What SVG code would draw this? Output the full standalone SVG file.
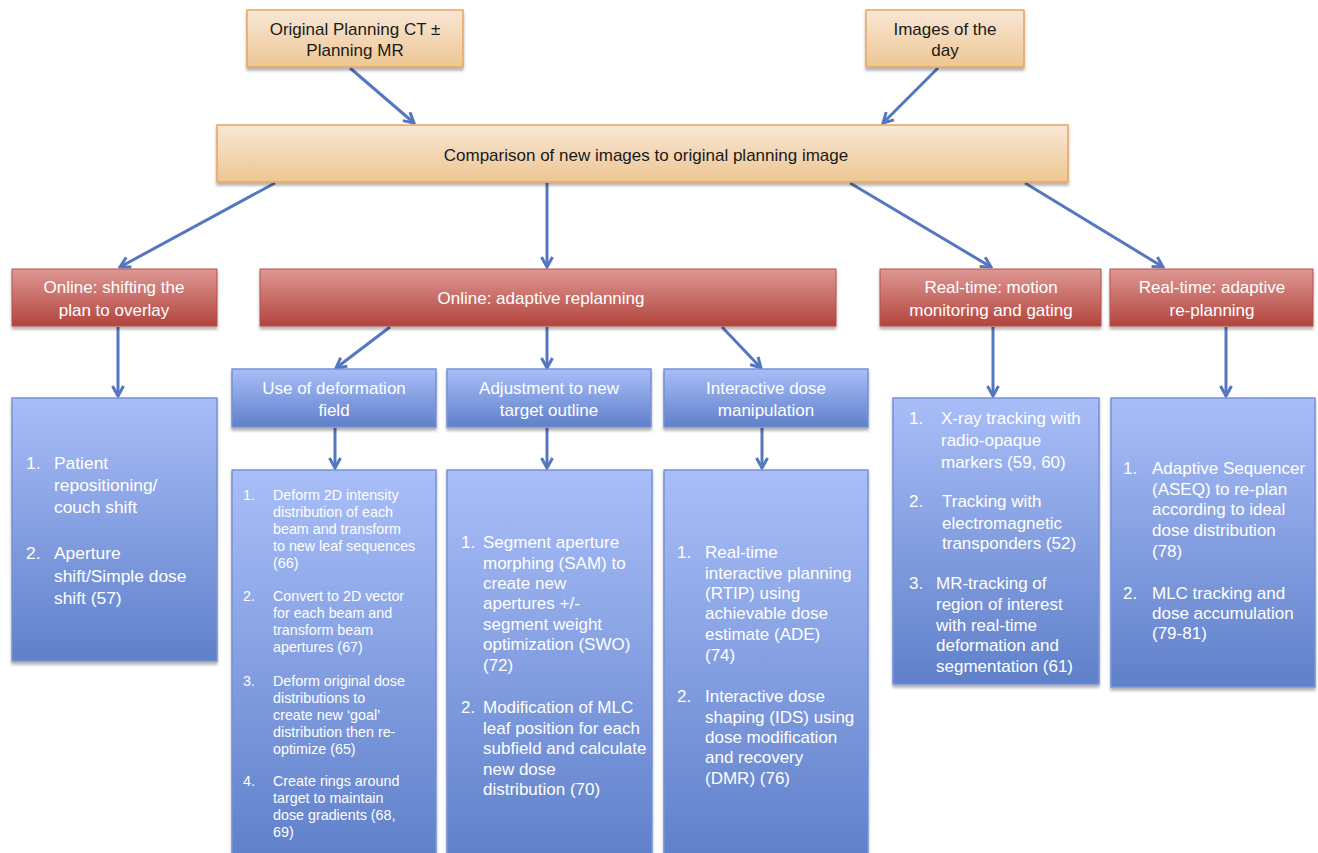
<svg xmlns="http://www.w3.org/2000/svg" width="1318" height="853" viewBox="0 0 1318 853">
<style>
  text { font-family: "Liberation Sans", Arial, sans-serif; }
  .or { fill: url(#gOr); stroke: #e6a55e; stroke-width: 1.5; filter: url(#sh); }
  .rd { fill: url(#gRd); stroke: #b5514c; stroke-width: 1; filter: url(#sh); }
  .bl { fill: url(#gBl); stroke: #7591d8; stroke-width: 1.5; filter: url(#sh); }
  .tdark { fill: #1a1a1a; font-size: 17px; text-anchor: middle; }
  .tw { fill: #ffffff; font-size: 17px; text-anchor: middle; }
  .lw { fill: #ffffff; }
  .c0 { font-size: 17.4px; }
  .c1 { font-size: 14.3px; }
  .c2 { font-size: 17px; }
  .cn { stroke: #5577c0; stroke-width: 3; fill: none; marker-end: url(#ah); }
</style>
<defs>
  <linearGradient id="gOr" x1="0" y1="0" x2="0" y2="1">
    <stop offset="0" stop-color="#f8e7d6"/>
    <stop offset="1" stop-color="#edc692"/>
  </linearGradient>
  <linearGradient id="gRd" x1="0" y1="0" x2="0" y2="1">
    <stop offset="0" stop-color="#de9893"/>
    <stop offset="1" stop-color="#b3443e"/>
  </linearGradient>
  <linearGradient id="gBl" x1="0" y1="0" x2="0" y2="1">
    <stop offset="0" stop-color="#a9bef8"/>
    <stop offset="1" stop-color="#5f80ca"/>
  </linearGradient>
  <filter id="sh" x="-5%" y="-5%" width="110%" height="115%">
    <feDropShadow dx="0" dy="3" stdDeviation="1.5" flood-color="#000" flood-opacity="0.3"/>
  </filter>
  <marker id="ah" viewBox="0 0 14 14" refX="12" refY="7" markerWidth="14" markerHeight="14" markerUnits="userSpaceOnUse" orient="auto">
    <path d="M2,1.5 L12,7 L2,12.5" fill="none" stroke="#5577c0" stroke-width="3" stroke-linejoin="miter"/>
  </marker>
</defs>

<g id="connectors">
  <line class="cn" x1="350" y1="68" x2="414" y2="123"/>
  <line class="cn" x1="938" y1="68" x2="883" y2="123"/>
  <line class="cn" x1="275" y1="183" x2="120" y2="267"/>
  <line class="cn" x1="547" y1="183" x2="547" y2="267"/>
  <line class="cn" x1="850" y1="183" x2="991" y2="267"/>
  <line class="cn" x1="1025" y1="183" x2="1163" y2="267"/>
  <line class="cn" x1="118" y1="327" x2="118" y2="396"/>
  <line class="cn" x1="390" y1="327" x2="336" y2="368"/>
  <line class="cn" x1="547" y1="327" x2="547" y2="368"/>
  <line class="cn" x1="722" y1="327" x2="761" y2="368"/>
  <line class="cn" x1="993" y1="327" x2="993" y2="396"/>
  <line class="cn" x1="1226" y1="327" x2="1226" y2="396"/>
  <line class="cn" x1="335" y1="428" x2="335" y2="468"/>
  <line class="cn" x1="547" y1="428" x2="547" y2="468"/>
  <line class="cn" x1="762" y1="428" x2="762" y2="468"/>
</g>

<g id="n-original">
  <rect class="or" x="247" y="10" width="216" height="57"/>
  <text class="tdark" x="355" y="35">Original Planning CT ±</text>
  <text class="tdark" x="355" y="56">Planning MR</text>
</g>
<g id="n-images">
  <rect class="or" x="866" y="10" width="158" height="57"/>
  <text class="tdark" x="945" y="35">Images of the</text>
  <text class="tdark" x="945" y="56">day</text>
</g>
<g id="n-compare">
  <rect class="or" x="217" y="125" width="851" height="57"/>
  <text class="tdark" x="646" y="161">Comparison of new images to original planning image</text>
</g>

<g id="n-shift">
  <rect class="rd" x="12" y="269" width="205" height="57"/>
  <text class="tw" x="114" y="293">Online: shifting the</text>
  <text class="tw" x="114" y="316">plan to overlay</text>
</g>
<g id="n-adaptive">
  <rect class="rd" x="260" y="269" width="576" height="57"/>
  <text class="tw" x="541" y="304">Online: adaptive replanning</text>
</g>
<g id="n-motion">
  <rect class="rd" x="880" y="269" width="221" height="57"/>
  <text class="tw" x="991" y="293">Real-time: motion</text>
  <text class="tw" x="991" y="316">monitoring and gating</text>
</g>
<g id="n-rtreplan">
  <rect class="rd" x="1110" y="269" width="203" height="57"/>
  <text class="tw" x="1212" y="293">Real-time: adaptive</text>
  <text class="tw" x="1212" y="316">re-planning</text>
</g>

<g id="n-deform">
  <rect class="bl" x="232" y="369" width="204" height="58"/>
  <text class="tw" x="334" y="394">Use of deformation</text>
  <text class="tw" x="334" y="416">field</text>
</g>
<g id="n-adjust">
  <rect class="bl" x="447" y="369" width="204" height="58"/>
  <text class="tw" x="549" y="394">Adjustment to new</text>
  <text class="tw" x="549" y="416">target outline</text>
</g>
<g id="n-interactive">
  <rect class="bl" x="664" y="369" width="204" height="58"/>
  <text class="tw" x="766" y="394">Interactive dose</text>
  <text class="tw" x="766" y="416">manipulation</text>
</g>

<g id="n-list-shift">
  <rect class="bl" x="12" y="398" width="205" height="263"/>
  <text class="lw c0">
    <tspan x="26" y="469">1.</tspan><tspan x="54" y="469">Patient</tspan>
    <tspan x="54" y="491">repositioning/</tspan>
    <tspan x="54" y="513">couch shift</tspan>
    <tspan x="26" y="559">2.</tspan><tspan x="54" y="559">Aperture</tspan>
    <tspan x="54" y="582">shift/Simple dose</tspan>
    <tspan x="54" y="604">shift (57)</tspan>
  </text>
</g>

<g id="n-list-deform">
  <rect class="bl" x="232" y="470" width="204" height="390"/>
  <text class="lw c1">
    <tspan x="243" y="500">1.</tspan><tspan x="273" y="500">Deform 2D intensity</tspan>
    <tspan x="273" y="517">distribution of each</tspan>
    <tspan x="273" y="534">beam and transform</tspan>
    <tspan x="273" y="551">to new leaf sequences</tspan>
    <tspan x="273" y="568">(66)</tspan>
    <tspan x="243" y="601">2.</tspan><tspan x="273" y="601">Convert to 2D vector</tspan>
    <tspan x="273" y="618">for each beam and</tspan>
    <tspan x="273" y="635">transform beam</tspan>
    <tspan x="273" y="652">apertures (67)</tspan>
    <tspan x="243" y="686">3.</tspan><tspan x="273" y="686">Deform original dose</tspan>
    <tspan x="273" y="703">distributions to</tspan>
    <tspan x="273" y="720">create new ‘goal’</tspan>
    <tspan x="273" y="737">distribution then re-</tspan>
    <tspan x="273" y="754">optimize (65)</tspan>
    <tspan x="243" y="786">4.</tspan><tspan x="273" y="786">Create rings around</tspan>
    <tspan x="273" y="803">target to maintain</tspan>
    <tspan x="273" y="820">dose gradients (68,</tspan>
    <tspan x="273" y="837">69)</tspan>
  </text>
</g>

<g id="n-list-adjust">
  <rect class="bl" x="447" y="470" width="205" height="390"/>
  <text class="lw c2">
    <tspan x="461" y="548">1.</tspan><tspan x="483" y="548">Segment aperture</tspan>
    <tspan x="483" y="569">morphing (SAM) to</tspan>
    <tspan x="483" y="589">create new</tspan>
    <tspan x="483" y="609">apertures +/-</tspan>
    <tspan x="483" y="630">segment weight</tspan>
    <tspan x="483" y="650">optimization (SWO)</tspan>
    <tspan x="483" y="671">(72)</tspan>
    <tspan x="461" y="713">2.</tspan><tspan x="483" y="713">Modification of MLC</tspan>
    <tspan x="483" y="734">leaf position for each</tspan>
    <tspan x="483" y="754">subfield and calculate</tspan>
    <tspan x="483" y="775">new dose</tspan>
    <tspan x="483" y="795">distribution (70)</tspan>
  </text>
</g>

<g id="n-list-interactive">
  <rect class="bl" x="664" y="470" width="204" height="390"/>
  <text class="lw c2">
    <tspan x="677" y="558">1.</tspan><tspan x="705" y="558">Real-time</tspan>
    <tspan x="705" y="579">interactive planning</tspan>
    <tspan x="705" y="599">(RTIP) using</tspan>
    <tspan x="705" y="619">achievable dose</tspan>
    <tspan x="705" y="640">estimate (ADE)</tspan>
    <tspan x="705" y="661">(74)</tspan>
    <tspan x="677" y="702">2.</tspan><tspan x="705" y="702">Interactive dose</tspan>
    <tspan x="705" y="723">shaping (IDS) using</tspan>
    <tspan x="705" y="743">dose modification</tspan>
    <tspan x="705" y="763">and recovery</tspan>
    <tspan x="705" y="784">(DMR) (76)</tspan>
  </text>
</g>

<g id="n-list-motion">
  <rect class="bl" x="893" y="398" width="206" height="286"/>
  <text class="lw c2">
    <tspan x="909" y="424">1.</tspan><tspan x="941" y="424">X-ray tracking with</tspan>
    <tspan x="941" y="446">radio-opaque</tspan>
    <tspan x="941" y="468">markers (59, 60)</tspan>
    <tspan x="909" y="507">2.</tspan><tspan x="942" y="507">Tracking with</tspan>
    <tspan x="942" y="529">electromagnetic</tspan>
    <tspan x="942" y="549">transponders (52)</tspan>
    <tspan x="909" y="589">3.</tspan><tspan x="936" y="589">MR-tracking of</tspan>
    <tspan x="936" y="610">region of interest</tspan>
    <tspan x="936" y="631">with real-time</tspan>
    <tspan x="936" y="651">deformation and</tspan>
    <tspan x="936" y="672">segmentation (61)</tspan>
  </text>
</g>

<g id="n-list-rtreplan">
  <rect class="bl" x="1111" y="398" width="204" height="289"/>
  <text class="lw c2">
    <tspan x="1123" y="474">1.</tspan><tspan x="1152" y="474">Adaptive Sequencer</tspan>
    <tspan x="1152" y="495">(ASEQ) to re-plan</tspan>
    <tspan x="1152" y="515">according to ideal</tspan>
    <tspan x="1152" y="536">dose distribution</tspan>
    <tspan x="1152" y="557">(78)</tspan>
    <tspan x="1123" y="599">2.</tspan><tspan x="1152" y="599">MLC tracking and</tspan>
    <tspan x="1152" y="619">dose accumulation</tspan>
    <tspan x="1152" y="639">(79-81)</tspan>
  </text>
</g>
</svg>
